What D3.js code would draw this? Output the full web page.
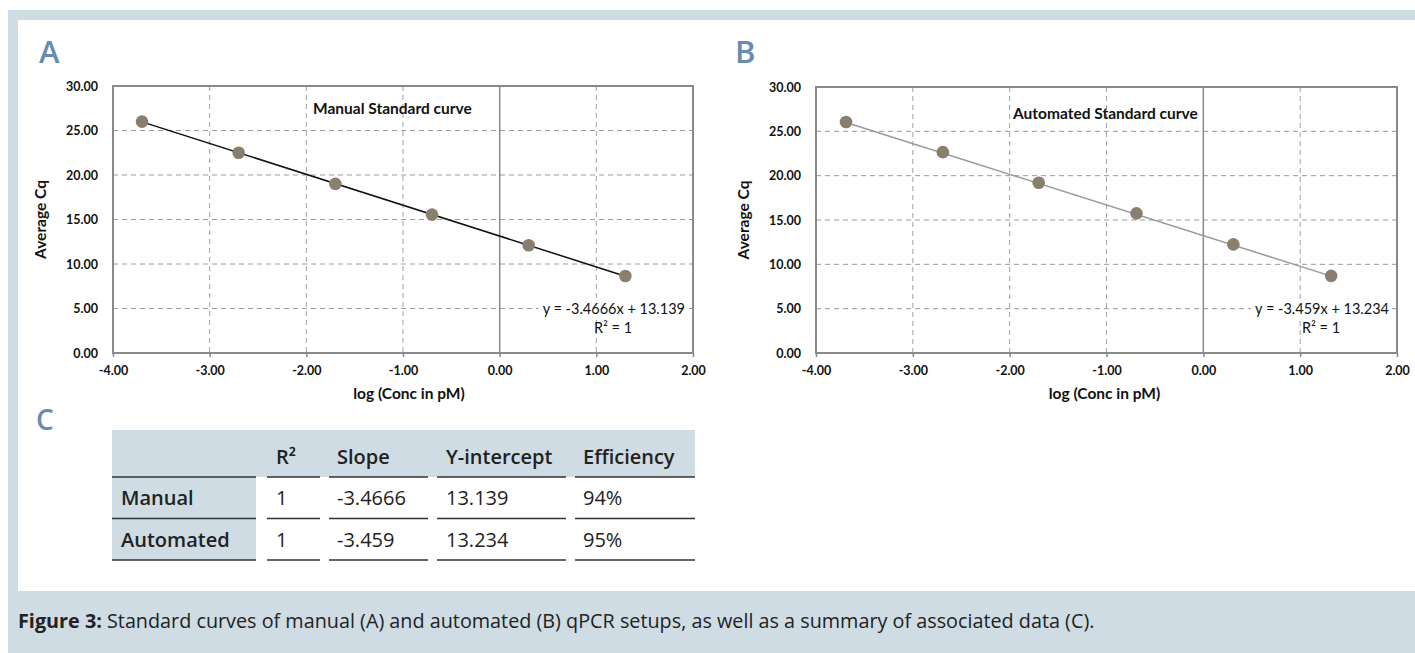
<!DOCTYPE html>
<html>
<head>
<meta charset="utf-8">
<script src="https://cdn.jsdelivr.net/npm/d3@7"></script>
<style>
  html, body { margin: 0; padding: 0; background: #ffffff; }
  svg { display: block; }
</style>
</head>
<body>
<svg id="fig" width="1415" height="653"></svg>
<script>
// ---------------- data ----------------
const xTicks = [-4, -3, -2, -1, 0, 1, 2];
const yTicks = [0, 5, 10, 15, 20, 25, 30];

const manualLogConc = [-3.70, -2.70, -1.70, -0.70, 0.30, 1.30];
const manualCq      = [26.0, 22.5, 19.0, 15.55, 12.1, 8.65];

const automatedLogConc = [-3.69, -2.69, -1.70, -0.69, 0.31, 1.32];
const automatedCq      = [26.05, 22.65, 19.2, 15.75, 12.25, 8.7];

const setupNames   = ["Manual", "Automated"];
const rSquared     = [1, 1];
const slopes       = [-3.4666, -3.459];
const intercepts   = [13.139, 13.234];
const efficiencies = ["94%", "95%"];

const tableHeaders = ["", "R²", "Slope", "Y-intercept", "Efficiency"];
const chartTitles  = ["Manual Standard curve", "Automated Standard curve"];
const panelLabels  = ["A", "B", "C"];
const xAxisTitle = "log (Conc in pM)";
const yAxisTitle = "Average Cq";
const captionBold = "Figure 3:";
const captionText = " Standard curves of manual (A) and automated (B) qPCR setups, as well as a summary of associated data (C).";

// ---------------- styles ----------------
const frameColor = "#cfdce4";
const labelColor = "#6a8bb0";
const pointColor = "#8c7e6e";
const chartFont = "Lato, 'Open Sans', sans-serif";
const bodyFont = "'Open Sans', 'Noto Sans', sans-serif";
const fmt2 = d => d.toFixed(2);

const svg = d3.select("#fig");

// frame
svg.append("rect").attr("x", 8).attr("y", 10).attr("width", 1407).attr("height", 643).attr("fill", frameColor);
svg.append("rect").attr("x", 18).attr("y", 20).attr("width", 1397).attr("height", 571).attr("fill", "#ffffff");

// ---------------- charts ----------------
function drawPanel(cfg) {
  const g = svg.append("g");
  const x = d3.scaleLinear().domain([-4, 2]).range([cfg.left, cfg.right]);
  const y = d3.scaleLinear().domain([0, 30]).range([cfg.bottom, cfg.top]);

  // dashed gridlines
  g.append("g").selectAll("line").data(yTicks.filter(v => v > 0 && v < 30)).join("line")
    .attr("x1", cfg.left).attr("x2", cfg.right)
    .attr("y1", d => y(d)).attr("y2", d => y(d))
    .attr("stroke", "#9a9a9a").attr("stroke-width", 1).attr("stroke-dasharray", "5,4");
  g.append("g").selectAll("line").data(xTicks.filter(v => v > -4 && v < 2 && v !== 0)).join("line")
    .attr("x1", d => x(d)).attr("x2", d => x(d))
    .attr("y1", cfg.top).attr("y2", cfg.bottom)
    .attr("stroke", "#a0a0a0").attr("stroke-width", 1).attr("stroke-dasharray", "5,4");
  // solid vertical axis at x = 0
  g.append("line").attr("x1", x(0)).attr("x2", x(0)).attr("y1", cfg.top).attr("y2", cfg.bottom)
    .attr("stroke", "#8a8a8a").attr("stroke-width", 1.5);

  // border
  g.append("rect").attr("x", cfg.left).attr("y", cfg.top)
    .attr("width", cfg.right - cfg.left).attr("height", cfg.bottom - cfg.top)
    .attr("fill", "none").attr("stroke", "#898989").attr("stroke-width", 2);

  // axes (ticks + labels)
  const xAxis = d3.axisBottom(x).tickValues(xTicks).tickFormat(fmt2).tickSize(4).tickPadding(9);
  const gx = g.append("g").attr("transform", `translate(0,${cfg.bottom})`).call(xAxis);
  gx.select(".domain").remove();
  gx.selectAll(".tick line").attr("stroke", "#898989").attr("stroke-width", 1.5);
  gx.selectAll("text").attr("font-family", chartFont).attr("font-weight", 700).attr("font-size", 12.5).attr("fill", "#111");

  const yAxis = d3.axisLeft(y).tickValues(yTicks).tickFormat(fmt2).tickSize(0).tickPadding(15);
  const gy = g.append("g").attr("transform", `translate(${cfg.left},0)`).call(yAxis);
  gy.select(".domain").remove();
  gy.selectAll("text").attr("font-family", chartFont).attr("font-weight", 700).attr("font-size", 12.5).attr("fill", "#111");

  // axis titles
  g.append("text").attr("x", (cfg.left + cfg.right) / 2 + cfg.xTitleShift).attr("y", cfg.bottom + 40)
    .attr("text-anchor", "middle").attr("dominant-baseline", "central")
    .attr("font-family", chartFont).attr("font-weight", 700).attr("font-size", 15.5).attr("fill", "#111")
    .text(xAxisTitle);
  g.append("text").attr("transform", `translate(${cfg.left - 73},${(cfg.top + cfg.bottom) / 2})rotate(-90)`)
    .attr("text-anchor", "middle").attr("dominant-baseline", "central")
    .attr("font-family", chartFont).attr("font-weight", 700).attr("font-size", 15.5).attr("fill", "#111")
    .text(yAxisTitle);

  // chart title
  g.append("text").attr("x", cfg.titleX).attr("y", cfg.titleY).attr("dominant-baseline", "central")
    .attr("font-family", chartFont).attr("font-weight", 700).attr("font-size", 15.5).attr("fill", "#111")
    .text(cfg.title);

  // trendline
  const xs = cfg.xs, ys = cfg.ys;
  const x0 = d3.min(xs), x1 = d3.max(xs);
  g.append("line")
    .attr("x1", x(x0)).attr("y1", y(cfg.slope * x0 + cfg.intercept))
    .attr("x2", x(x1)).attr("y2", y(cfg.slope * x1 + cfg.intercept))
    .attr("stroke", cfg.lineColor).attr("stroke-width", cfg.lineWidth);

  // points
  g.append("g").selectAll("circle").data(xs.map((v, i) => [v, ys[i]])).join("circle")
    .attr("cx", d => x(d[0])).attr("cy", d => y(d[1])).attr("r", 6.3)
    .attr("fill", pointColor);

  // equation with white background
  const bgRect = g.append("rect").attr("fill", "#fff");
  const eq = g.append("text").attr("x", cfg.right - 8).attr("y", y(5)).attr("text-anchor", "end")
    .attr("dominant-baseline", "central")
    .attr("font-family", chartFont).attr("font-size", 14.5).attr("fill", "#111")
    .text(`y = ${cfg.slope}x + ${cfg.intercept}`);
  const bb = eq.node().getBBox();
  bgRect.attr("x", bb.x - 4).attr("y", bb.y).attr("width", bb.width + 4).attr("height", bb.height);
  g.append("text").attr("x", cfg.right - cfg.r2Offset).attr("y", y(5) + 19).attr("text-anchor", "middle")
    .attr("dominant-baseline", "central")
    .attr("font-family", chartFont).attr("font-size", 14.5).attr("fill", "#111")
    .text(`R² = ${cfg.r2}`);
}

drawPanel({ left: 113, right: 693, top: 86, bottom: 353, xs: manualLogConc, ys: manualCq,
  slope: slopes[0], intercept: intercepts[0], r2: rSquared[0], title: chartTitles[0],
  titleX: 313, titleY: 108, lineColor: "#111", lineWidth: 1.5, r2Offset: 80, xTitleShift: 6 });
drawPanel({ left: 816, right: 1397, top: 87, bottom: 353, xs: automatedLogConc, ys: automatedCq,
  slope: slopes[1], intercept: intercepts[1], r2: rSquared[1], title: chartTitles[1],
  titleX: 1013, titleY: 113, lineColor: "#9a9a9a", lineWidth: 1.5, r2Offset: 76, xTitleShift: -2 });

// panel labels
const labelPos = [[39, 51, 31], [735, 51, 31], [36, 419, 28]];
panelLabels.forEach((t, i) => {
  svg.append("text").attr("x", labelPos[i][0]).attr("y", labelPos[i][1])
    .attr("dominant-baseline", "central")
    .attr("font-family", bodyFont).attr("font-weight", 600).attr("font-size", labelPos[i][2])
    .attr("fill", labelColor).text(t);
});

// ---------------- table ----------------
const tbl = svg.append("g");
const colSeg = [[112, 256], [267, 320], [329, 428], [437, 566], [575, 695]];
const textX = [121, 276, 337, 446, 583];
const headTop = 430, headBottom = 477, rowBottoms = [518.5, 560];
tbl.append("rect").attr("x", 112).attr("y", headTop).attr("width", 695 - 112).attr("height", headBottom - headTop).attr("fill", frameColor);
tbl.append("rect").attr("x", 112).attr("y", headBottom).attr("width", 256 - 112).attr("height", rowBottoms[1] - headBottom).attr("fill", frameColor);
[headBottom, ...rowBottoms].forEach(yy => {
  colSeg.forEach(s => {
    tbl.append("line").attr("x1", s[0]).attr("x2", s[1]).attr("y1", yy).attr("y2", yy)
      .attr("stroke", "#333").attr("stroke-width", 1.5);
  });
});
tableHeaders.forEach((h, i) => {
  tbl.append("text").attr("x", textX[i]).attr("y", 456).attr("dominant-baseline", "central")
    .attr("font-family", bodyFont).attr("font-weight", 600).attr("font-size", 20).attr("fill", "#222").text(h);
});
const rowCenters = [497, 539];
setupNames.forEach((name, r) => {
  const cells = [name, String(rSquared[r]), String(slopes[r]), String(intercepts[r]), efficiencies[r]];
  cells.forEach((c, i) => {
    tbl.append("text").attr("x", textX[i]).attr("y", rowCenters[r]).attr("dominant-baseline", "central")
      .attr("font-family", bodyFont).attr("font-weight", i === 0 ? 600 : 400).attr("font-size", 20)
      .attr("fill", "#222").text(c);
  });
});

// ---------------- caption ----------------
const cap = svg.append("text").attr("x", 18).attr("y", 620).attr("dominant-baseline", "central")
  .attr("font-family", bodyFont).attr("font-size", 19.8).attr("fill", "#222");
cap.append("tspan").attr("font-weight", 700).text(captionBold);
cap.append("tspan").text(captionText);
</script>
</body>
</html>
